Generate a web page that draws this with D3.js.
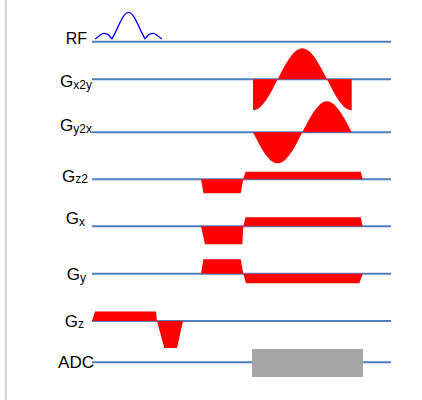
<!DOCTYPE html>
<html>
<head>
<meta charset="utf-8">
<script src="https://cdn.jsdelivr.net/npm/d3@7"></script>
<style>
  body { margin: 0; background: #fff; }
  svg { display: block; }
</style>
</head>
<body>
<div id="container"></div>
<script>
var width = 422,
    height = 400;

// rows of the sequence diagram, top to bottom
var rowNames = ["RF", "Gx2y", "Gy2x", "Gz2", "Gx", "Gy", "Gz", "ADC"];
var rowMain = ["RF", "G", "G", "G", "G", "G", "G", "ADC"];
var rowSub = ["", "x2y", "y2x", "z2", "x", "y", "z", ""];

// time axis (arbitrary units)
var timeSpan = [0, 299];

// RF pulse: |sinc| lobes, [time, amplitude]
var rfLobes = [
    [[3.2, 0], [7.4, 3.4], [11.5, 5.7], [15.7, 4.8], [19.9, 0]],
    [[19.9, 0], [24, 8], [28.2, 17], [32.3, 24], [36.5, 26.7], [40.7, 24], [44.8, 17], [49, 8], [53.1, 0]],
    [[53.1, 0], [57.3, 4.8], [61.4, 5.7], [65.6, 3.4], [69.8, 0]]
];

// sinusoidal gradients
var sineTimes = [161, 167.2, 173.3, 179.5, 185.7, 191.8, 198, 204.2, 210.3, 216.5, 222.7, 228.8, 235, 241.2, 247.3, 253.5, 259.7];
var gx2yAmps = [-31, -28.6, -21.9, -11.9, 0, 11.9, 21.9, 28.6, 31, 28.6, 21.9, 11.9, 0, -11.9, -21.9, -28.6, -31];
var gy2xAmps = [0, -11.9, -21.9, -28.6, -31, -28.6, -21.9, -11.9, 0, 11.9, 21.9, 28.6, 31, 28.6, 21.9, 11.9, 0];

// trapezoid gradients, [time, amplitude]
var gz2Wave = [[109, 0], [111.5, -14], [148.7, -14], [151.3, 0], [153.5, 7.6], [268.7, 7.6], [270.7, 0]];
var gxWave = [[109, 0], [113, -18], [150.3, -18], [151.3, 0], [153.5, 9], [268.7, 9], [270.7, 0]];
var gyWave = [[109, 0], [111.3, 14.4], [148.7, 14.4], [151.3, 0], [154, -9.5], [267.3, -9.5], [270.7, 0]];
var gzWave = [[0, 0], [3, 9.5], [64, 9.5], [65, 0], [72.3, -27], [85, -27], [91, 0]];

// ADC window
var adcWindow = [160, 271];
var adcLevels = [-14.7, 13.3];

// layout (pixels)
var rowY = [41.7, 79.3, 132.3, 179.3, 226.3, 273.7, 321, 362.3];
var labelRight = [87, 92, 92, 88, 85, 86, 84, 94];
var labelBase = [43.5, 87, 131, 181.7, 224.3, 280, 326.7, 368.3];
var labelSize = [16, 17, 17, 17, 17, 17, 17, 17];

var svg = d3.select("#container").append("svg")
    .attr("width", width)
    .attr("height", height);

var x = d3.scaleLinear().domain([0, 300]).range([92, 392]);
var amp = d3.scaleLinear().domain([0, 10]).range([0, -10]);

// left frame edge
svg.append("line")
    .attr("x1", 6).attr("x2", 6)
    .attr("y1", 0).attr("y2", height)
    .attr("stroke", "#d4d4d4")
    .attr("stroke-width", 2);

// baselines
svg.selectAll(".base").data(rowNames).enter().append("line")
    .attr("class", "base")
    .attr("x1", x(timeSpan[0]))
    .attr("x2", x(timeSpan[1]))
    .attr("y1", (d, i) => rowY[i])
    .attr("y2", (d, i) => rowY[i])
    .attr("stroke", "#4f81bd")
    .attr("stroke-width", 2);

// labels
var labels = svg.selectAll(".lab").data(rowNames).enter().append("text")
    .attr("class", "lab")
    .attr("x", (d, i) => labelRight[i])
    .attr("y", (d, i) => labelBase[i])
    .attr("text-anchor", "end")
    .attr("font-family", "'Liberation Sans', Arial, sans-serif")
    .attr("font-size", (d, i) => labelSize[i])
    .attr("fill", "#000");
labels.append("tspan").text((d, i) => rowMain[i]);
labels.filter((d, i) => rowSub[i] != "")
    .append("tspan")
    .attr("font-size", 12)
    .attr("dy", 1.5)
    .text((d, i) => rowSub[rowNames.indexOf(d)]);

function rowIndex(name) { return rowNames.indexOf(name); }

// trapezoids / sines as filled areas against their baseline
function drawWave(points, name, curve) {
    var y0 = rowY[rowIndex(name)];
    var area = d3.area()
        .x(d => x(d[0]))
        .y0(y0)
        .y1(d => y0 + amp(d[1]))
        .curve(curve || d3.curveLinear);
    svg.append("path")
        .datum(points)
        .attr("d", area)
        .attr("fill", "#ff0000");
}

drawWave(sineTimes.map((t, i) => [t, gx2yAmps[i]]), "Gx2y", d3.curveMonotoneX);
drawWave(sineTimes.map((t, i) => [t, gy2xAmps[i]]), "Gy2x", d3.curveMonotoneX);
drawWave(gz2Wave, "Gz2");
drawWave(gxWave, "Gx");
drawWave(gyWave, "Gy");
drawWave(gzWave, "Gz");

// RF sinc
var rfLift = 2.6;
var rfLine = d3.line()
    .x(d => x(d[0]))
    .y(d => rowY[0] - rfLift + amp(d[1]))
    .curve(d3.curveMonotoneX);
svg.selectAll(".rf").data(rfLobes).enter().append("path")
    .attr("class", "rf")
    .attr("d", rfLine)
    .attr("fill", "none")
    .attr("stroke", "#0000ff")
    .attr("stroke-width", 1.3);

// ADC readout block
var adcY = rowY[rowIndex("ADC")];
svg.append("rect")
    .attr("x", x(adcWindow[0]))
    .attr("width", x(adcWindow[1]) - x(adcWindow[0]))
    .attr("y", adcY + amp(adcLevels[1]))
    .attr("height", amp(adcLevels[0]) - amp(adcLevels[1]))
    .attr("fill", "#a6a6a6");
</script>
</body>
</html>
